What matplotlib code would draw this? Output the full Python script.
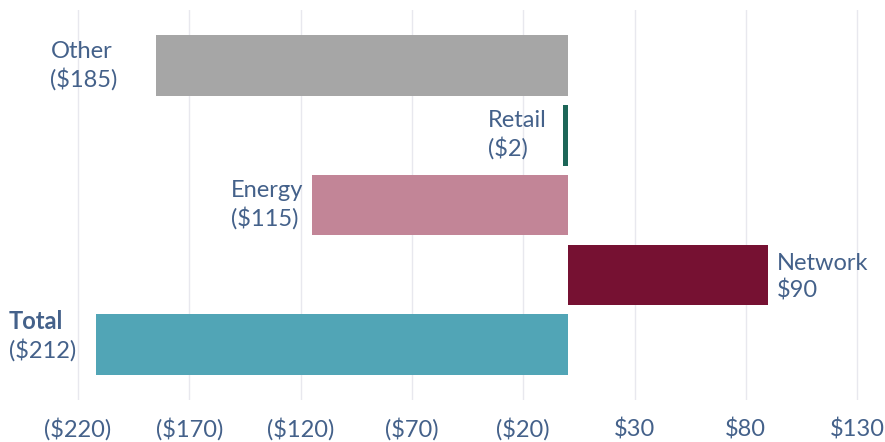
import matplotlib.pyplot as plt

# Data
categories = ['Other', 'Retail', 'Energy', 'Network', 'Total']
values = [-185, -2, -115, 90, -212]
colors = ['#a6a6a6', '#1d6658', '#c28597', '#761132', '#51a5b6']
ticks = [-220, -170, -120, -70, -20, 30, 80, 130]

# label gaps from bar end (pixels)
label_gaps = [38, 17, 8, 9, 16]

text_color = '#44618a'
fsize = 17
plt.rcParams['font.family'] = ['Lato', 'DejaVu Sans']


def money(v):
    return '(${})'.format(abs(v)) if v < 0 else '${}'.format(v)


fig = plt.figure(figsize=(8.85, 4.42), dpi=100)
ax = fig.add_axes([0, 0.095, 1, 0.882])

y = list(range(len(categories)))
ax.barh(y, values, height=0.87, color=colors, zorder=2)

for i, (cat, v) in enumerate(zip(categories, values)):
    if cat == 'Total':
        # bold name above the amount, block left-aligned
        ax.annotate('Total', xy=(v, i), xytext=(-87, 23),
                    textcoords='offset pixels', ha='left', va='center',
                    fontsize=fsize, color=text_color, fontweight='bold')
        ax.annotate(money(v), xy=(v, i), xytext=(-87, -5),
                    textcoords='offset pixels', ha='left', va='center',
                    fontsize=fsize, color=text_color)
        continue
    label = cat + '\n' + money(v)
    if v < 0:
        ax.annotate(label, xy=(v, i), xytext=(-label_gaps[i], 0),
                    textcoords='offset pixels', ha='right', va='center',
                    multialignment='left', fontsize=fsize, color=text_color,
                    linespacing=1.3)
    else:
        ax.annotate(label, xy=(v, i), xytext=(label_gaps[i], -2),
                    textcoords='offset pixels', ha='left', va='center',
                    multialignment='left', fontsize=fsize, color=text_color,
                    linespacing=1.3)

ax.set_xlim(-255, 142.5)
ax.set_ylim(4.79, -0.79)
ax.set_xticks(ticks)
ax.set_xticklabels([money(t) for t in ticks], fontsize=fsize, color=text_color)
ax.set_yticks([])
ax.tick_params(axis='x', length=0, pad=13)
ax.grid(axis='x', color='#e8e8ee', linewidth=1, zorder=0)
for s in ax.spines.values():
    s.set_visible(False)

fig.savefig('out.png', dpi=100)
